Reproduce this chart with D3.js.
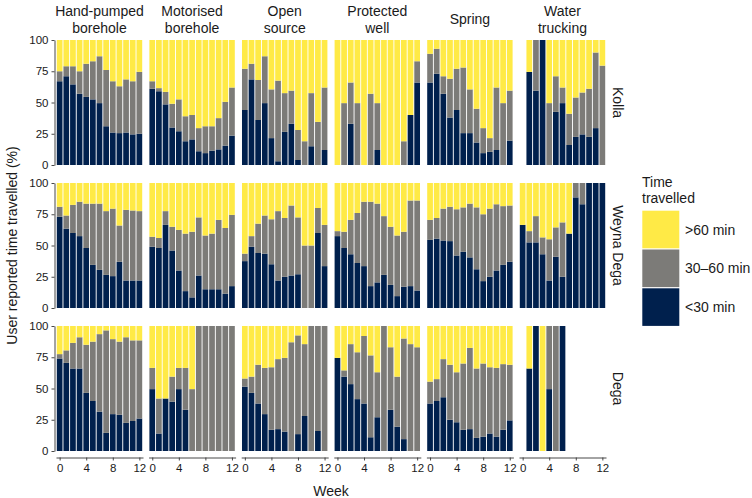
<!DOCTYPE html>
<html><head><meta charset="utf-8">
<script src="https://cdn.jsdelivr.net/npm/d3@7"></script>
<style>
body{margin:0;background:#fff;}
svg{display:block;font-family:"Liberation Sans",Arial,Helvetica,sans-serif;}
</style>
</head><body>
<svg id="chart" width="752" height="498"></svg>
<script>
// ---------- data ----------
const weeks = [0,1,2,3,4,5,6,7,8,9,10,11,12];
const sources = [["Hand-pumped","borehole"],["Motorised","borehole"],["Open","source"],["Protected","well"],["Spring"],["Water","trucking"]];
const regions = ["Kolla","Weyna Dega","Dega"];
const categoryLabels = [">60 min","30\u201360 min","<30 min"];
const categoryKeys = ["gt60","mid","lt30"];
const categoryColours = {lt30:"#00204D", mid:"#7C7B78", gt60:"#FFEA46"};
const yTicks = [0,25,50,75,100];
const xTicks = [0,4,8,12];

// Kolla (rows: sources in order above; values per week 0..12, % of users)
const kollaLt30 = [
 [67,71,64.5,57,54.5,52.5,49.5,31,26,25.5,26,24.5,25],
 [61,59,48.5,30,27,19,20.5,11,9.5,11.5,12.5,15.5,23.5],
 [44,68.5,36,49.5,21.5,3,26.5,33,4,0,15,0,12],
 [0,0,33,0,0,0,12,0,0,0,0,40,66],
 [66,73,57,38,44,25.5,25.5,18,9.5,10.5,12,0,19.5],
 [null,74.5,59.5,100,0,42.5,49.5,16,22.5,24.5,22.5,29.5,0]
];
const kolla30to60 = [
 [8,8,14.5,18,26.5,30.5,37.5,45,41,37.5,42.5,42.5,49.5],
 [6,2.5,10,19,25.5,20,19.5,18.5,21.5,19.5,25,35,38.5],
 [33,12.5,32,37.5,39,64.5,31,26.5,24,19,42.5,34.5,50],
 [0,49.5,33,49.5,0,57,37.5,0,0,0,19,0,17],
 [23,20,14,31,33,52.5,35,27,20,11,50,49.5,40],
 [null,0,40.5,0,49.5,28.5,12.5,25,31.5,33.5,38.5,60.5,79.5]
];
const kollaGt60 = [
 [25,21,21,25,19,17,13,24,33,37,31.5,33,25.5],
 [33,38.5,41.5,51,47.5,61,60,70.5,69,69,62.5,49.5,38],
 [23,19,32,13,39.5,32.5,42.5,40.5,72,81,42.5,65.5,38],
 [100,50.5,34,50.5,100,43,50.5,100,100,100,81,60,17],
 [11,7,29,31,23,22,39.5,55,70.5,78.5,38,50.5,40.5],
 [null,25.5,0,0,50.5,29,38,59,46,42,39,10,20.5]
];

// Weyna Dega
const weynaLt30 = [
 [73,63.5,60,57.5,48,34.5,30.5,26.5,25.5,37,22,22,22],
 [49,48,66.5,46,30,13.5,8.5,26,15,15,15,11.5,17.5],
 [37.5,49,44,43.5,35,22,25,26,27,0,0,60,33.5],
 [57.5,48,43,36,33.5,17.5,20.5,26.5,18.5,9.5,17,17.5,14],
 [54.5,55.5,54,53.5,42,45,40.5,31,21.5,25,30,34.5,37],
 [66.5,52.5,52.5,43,22,41,25,59.5,88.5,83,100,100,100]
];
const weyna30to60 = [
 [8,10.5,22.5,27.5,35.5,49,53,51,54,29,56.5,56,55.5],
 [8,8,11,19,32.5,46,52.5,46.5,43,44.5,55.5,52.5,57],
 [6,8.5,23.5,30.5,36,55.5,47,56,45.5,50,50,20,33],
 [4,13,27.5,40,51.5,67.5,63,47,46.5,48.5,44,68.5,72],
 [16,16.5,25.5,27.5,37,35.5,43,49.5,53.5,54.5,53,47,45],
 [0,9,21,13.5,33,23.5,43.5,0,11.5,17,0,0,0]
];
const weynaGt60 = [
 [19,26,17.5,15,16.5,16.5,16.5,22.5,20.5,34,21.5,22,22.5],
 [43,44,22.5,35,37.5,40.5,39,27.5,42,40.5,29.5,36,25.5],
 [56.5,42.5,32.5,26,29,22.5,28,18,27.5,50,50,20,33.5],
 [38.5,39,29.5,24,15,15,16.5,26.5,35,42,39,14,14],
 [29.5,28,20.5,19,21,19.5,16.5,19.5,25,20.5,17,18.5,18],
 [33.5,38.5,26.5,43.5,45,35.5,31.5,40.5,0,0,0,0,0]
];

// Dega
const degaLt30 = [
 [74,70.5,66,66,46.5,40,31.5,14.5,29.5,29,22.5,24,26],
 [49.5,14,42,39.5,49.5,33,0,0,0,0,0,0,0],
 [51.5,46.5,38,29.5,17,17.5,15.5,0,13.5,28,0,16,0],
 [74.5,59.5,53.5,41.5,38,11,27,0,33,19.5,9.5,0,0],
 [38,40,43,25,23,17,17.5,10.5,11.5,14,11.5,17,24.5],
 [null,66,100,0,49.5,0,100,null,null,null,null,null,null]
];
const dega30to60 = [
 [3.5,10,20.5,25,38.5,47.5,62,82,60,58.5,68.5,64.5,62.5],
 [17,28,0,20,17,33.5,49.5,100,100,100,100,100,100],
 [6.5,13,31,37,50,56,59,87,79,57.5,100,84,100],
 [0,5,32,37.5,54,65.5,36,100,50,40,80.5,85.5,83],
 [17.5,17.5,30.5,44,40,53,65,55.5,58.5,53,55,52.5,44.5],
 [null,0,0,0,50.5,100,0,null,null,null,null,null,null]
];
const degaGt60 = [
 [22.5,19.5,13.5,9,15,12.5,6.5,3.5,10.5,12.5,9,11.5,11.5],
 [33.5,58,58,40.5,33.5,33.5,50.5,0,0,0,0,0,0],
 [42,40.5,31,33.5,33,26.5,25.5,13,7.5,14.5,0,0,0],
 [25.5,35.5,14.5,21,8,23.5,37,0,17,40.5,10,14.5,17],
 [44.5,42.5,26.5,31,37,30,17.5,34,30,33,33.5,30.5,31],
 [null,34,0,100,0,0,0,null,null,null,null,null,null]
];

const regionData = [
  {lt30: kollaLt30, mid: kolla30to60, gt60: kollaGt60},
  {lt30: weynaLt30, mid: weyna30to60, gt60: weynaGt60},
  {lt30: degaLt30,  mid: dega30to60,  gt60: degaGt60}
];

// ---------- layout ----------
const svg = d3.select("#chart");
const panelLeft0 = 56, colStep = 92.6, panelW = 87;
const rowTops = [40, 183, 326], panelH = 125;
const textCol = "#1a1a1a", tickCol = "#333";

const stack = d3.stack().keys(["lt30","mid","gt60"]);

regions.forEach((region, r) => {
  const top = rowTops[r];
  const y = d3.scaleLinear().domain([0,100]).range([top+panelH, top]);
  sources.forEach((src, c) => {
    const left = panelLeft0 + c*colStep;
    const x = d3.scaleLinear().domain([-0.55, 12.55]).range([left, left+panelW]);
    const bw = (x(1)-x(0))*0.86;
    const rows = weeks.map((w,i) => ({
      week: w,
      lt30: regionData[r].lt30[c][i],
      mid: regionData[r].mid[c][i],
      gt60: regionData[r].gt60[c][i]
    })).filter(d => d.lt30 !== null);
    const series = stack(rows);
    const g = svg.append("g");
    series.forEach(s => {
      g.selectAll(null).data(s).enter().append("rect")
        .attr("x", d => x(d.data.week) - bw/2)
        .attr("width", bw)
        .attr("y", d => y(d[1]))
        .attr("height", d => Math.max(0, y(d[0]) - y(d[1])))
        .attr("fill", categoryColours[s.key]);
    });

    // x axis on bottom row
    if (r === regions.length-1) {
      const ax = svg.append("g").attr("transform", `translate(0,${top+panelH+6.5})`)
        .call(d3.axisBottom(x).tickValues(xTicks).tickSize(3).tickPadding(3).tickSizeOuter(0));
      ax.select(".domain").attr("stroke", tickCol).attr("stroke-width", 0.9);
      ax.selectAll(".tick line").attr("stroke", tickCol).attr("stroke-width", 0.9);
      ax.selectAll("text").attr("font-size", 11.5).attr("fill", textCol)
        .attr("font-family", "Liberation Sans, Arial, sans-serif");
    }
    // strip titles on top
    if (r === 0) {
      const t = svg.append("text").attr("text-anchor","middle")
        .attr("font-size", 14).attr("fill", textCol);
      if (src.length === 2) {
        t.append("tspan").attr("x", left+panelW/2).attr("y", 16).text(src[0]);
        t.append("tspan").attr("x", left+panelW/2).attr("y", 32.5).text(src[1]);
      } else {
        t.append("tspan").attr("x", left+panelW/2).attr("y", 24).text(src[0]);
      }
    }
  });

  // y axis
  const ay = svg.append("g").attr("transform", `translate(${panelLeft0-1.5},0)`)
    .call(d3.axisLeft(y).tickValues(yTicks).tickSize(3).tickPadding(3).tickSizeOuter(0));
  ay.select(".domain").attr("stroke", tickCol).attr("stroke-width", 0.9);
  ay.selectAll(".tick line").attr("stroke", tickCol).attr("stroke-width", 0.9);
  ay.selectAll("text").attr("font-size", 11.5).attr("fill", textCol)
    .attr("font-family", "Liberation Sans, Arial, sans-serif");

  // right strip label
  const cy = top + panelH/2;
  svg.append("text").attr("transform", `translate(618,${cy}) rotate(90)`)
    .attr("text-anchor","middle").attr("dominant-baseline","central")
    .attr("font-size", 14).attr("fill", textCol).text(region);
});

// axis titles
svg.append("text").attr("x", panelLeft0 + (5*colStep+panelW)/2).attr("y", 496)
  .attr("text-anchor","middle").attr("font-size", 14).attr("fill", textCol).text("Week");
svg.append("text").attr("transform", `translate(12,${(rowTops[0]+rowTops[2]+panelH)/2}) rotate(-90)`)
  .attr("text-anchor","middle").attr("dominant-baseline","central")
  .attr("font-size", 14).attr("fill", textCol).text("User reported time travelled (%)");

// legend
const lg = svg.append("g");
lg.append("text").attr("x", 642).attr("y", 186.5).attr("font-size", 14).attr("fill", textCol).text("Time");
lg.append("text").attr("x", 642).attr("y", 203).attr("font-size", 14).attr("fill", textCol).text("travelled");
categoryKeys.forEach((k, i) => {
  const ky = 210.7 + i*38.8;
  lg.append("rect").attr("x", 642.3).attr("y", ky).attr("width", 37).attr("height", 37.6)
    .attr("fill", categoryColours[k]);
  lg.append("text").attr("x", 685).attr("y", ky + 18.8).attr("dominant-baseline","central")
    .attr("font-size", 14).attr("fill", textCol).text(categoryLabels[i]);
});
</script>
</body></html>
